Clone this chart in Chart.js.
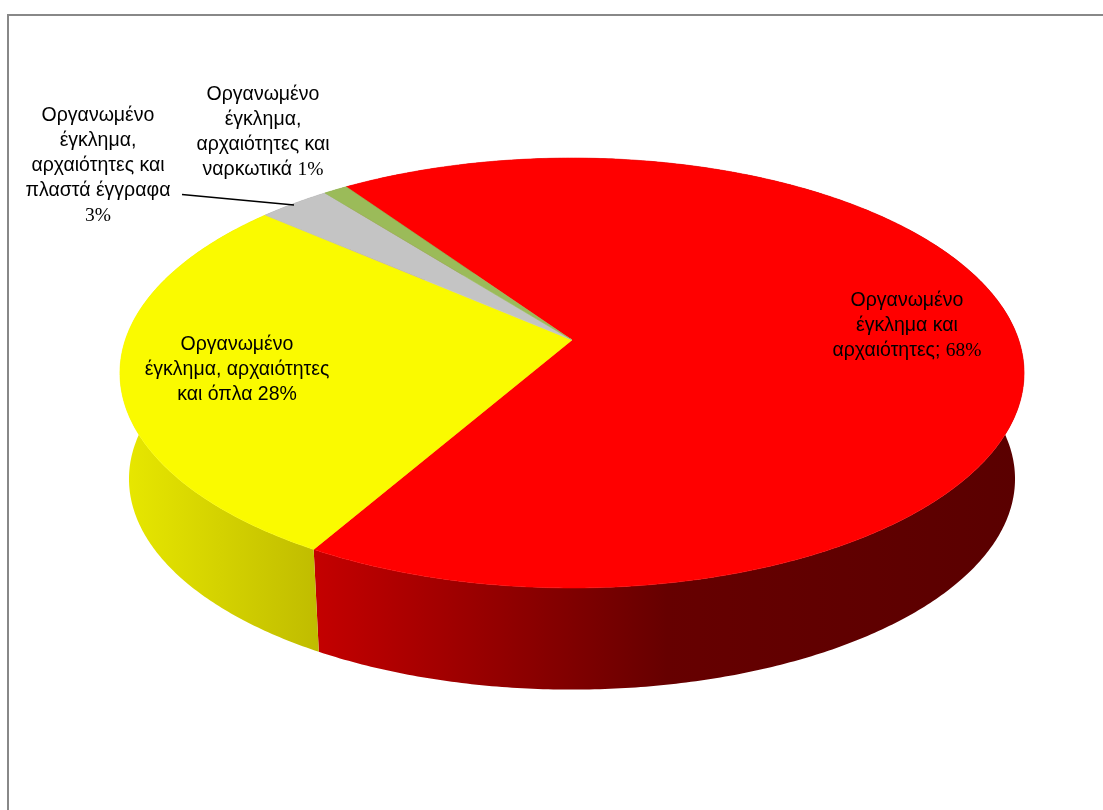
<!DOCTYPE html>
<html>
<head>
<meta charset="utf-8">
<title>Οργανωμένο έγκλημα</title>
<script src="https://cdn.jsdelivr.net/npm/chart.js@4"></script>
<style>
html,body{margin:0;padding:0;background:#fff;overflow:hidden}
canvas{display:block}
</style>
</head>
<body>
<canvas id="c" width="1103" height="810"></canvas>
<script>
const categories = [
    "Οργανωμένο έγκλημα και αρχαιότητες",
    "Οργανωμένο έγκλημα, αρχαιότητες και όπλα",
    "Οργανωμένο έγκλημα, αρχαιότητες και πλαστά έγγραφα",
    "Οργανωμένο έγκλημα, αρχαιότητες και ναρκωτικά"
]
const values = [68, 28, 3, 1]
const top_colors = ["#ff0000", "#fafa00", "#c4c4c4", "#9bbb59"]
const wall_colors = [
    ["#c40000", "#660000", "#5a0000"],
    ["#e8e800", "#c0bc00"],
    ["#8a8a8a", "#8a8a8a"],
    ["#6d8a3c", "#6d8a3c"]
]
// the text of each label, wrapped, the percent goes after the last line
const label_lines = [
    ["Οργανωμένο", "έγκλημα και", "αρχαιότητες; "],
    ["Οργανωμένο", "έγκλημα, αρχαιότητες", "και όπλα "],
    ["Οργανωμένο", "έγκλημα,", "αρχαιότητες και", "πλαστά έγγραφα", ""],
    ["Οργανωμένο", "έγκλημα,", "αρχαιότητες και", "ναρκωτικά "]
]
const label_x = [907, 237, 98, 263]
const label_y = [306, 350, 121, 100]
const pct_font = ["serif", "sans", "serif", "serif"]

const sans_font = "19.5px 'Liberation Sans', Arial, sans-serif"
const serif_font = "19.5px 'Liberation Serif', 'Times New Roman', serif"
const line_height = 25

// perspective of the disc: unit circle -> picture
const center_x = 572
const center_y = 340
const disc_w = 446.7
const disc_h = 209.9
const tilt = -0.1535
const depth_y = 106.6
const depth_scale = 0.98

function project(angle, lower){
    let ux = Math.cos(angle)
    let uy = Math.sin(angle)
    let den = 1 + tilt * uy
    let s = lower ? depth_scale : 1
    let off = lower ? depth_y : 0
    return [center_x + s * disc_w * ux / den, center_y + off + s * disc_h * uy / den]
}

function rim_points(start, end, lower){
    let pts = []
    let n = Math.max(2, Math.ceil((end - start) / 0.01))
    for (let i = 0; i <= n; i++){
        pts.push(project(start + (end - start) * i / n, lower))
    }
    return pts
}

function trace(ctx, pts){
    ctx.beginPath()
    pts.forEach(function(p, i){
        if (i == 0){ctx.moveTo(p[0], p[1])}
        else {ctx.lineTo(p[0], p[1])}
    })
    ctx.closePath()
}

function wall_gradient(ctx, stops, x0, x1){
    let g = ctx.createLinearGradient(x0, 0, x1, 0)
    stops.forEach(function(c, i){g.addColorStop(i / (stops.length - 1), c)})
    return g
}

const disc3d = {
    id: "disc3d",
    beforeDraw(chart){
        let ctx = chart.ctx
        ctx.fillStyle = "#888888"
        ctx.fillRect(7, 14, 1096, 2)
        ctx.fillRect(7, 14, 2, 796)
    },
    beforeDatasetsDraw(chart){
        let ctx = chart.ctx
        let arcs = chart.getDatasetMeta(0).data

        // side wall first, the top covers the back part of it
        arcs.forEach(function(arc, i){
            let up = rim_points(arc.startAngle, arc.endAngle, false)
            let down = rim_points(arc.startAngle, arc.endAngle, true).reverse()
            let x0 = i == 0 ? 315 : 122
            let x1 = i == 0 ? 1020 : 318
            ctx.fillStyle = wall_gradient(ctx, wall_colors[i], x0, x1)
            trace(ctx, up.concat(down))
            ctx.fill()
        })

        arcs.forEach(function(arc, i){
            let pts = [[center_x, center_y]].concat(rim_points(arc.startAngle, arc.endAngle, false))
            trace(ctx, pts)
            ctx.fillStyle = top_colors[i]
            ctx.strokeStyle = top_colors[i]
            ctx.lineWidth = 0.6
            ctx.fill()
            ctx.stroke()
        })
        return false
    },
    afterDraw(chart){
        let ctx = chart.ctx

        // leader line of the 3% label
        ctx.beginPath()
        ctx.moveTo(182, 194.5)
        ctx.lineTo(294, 205)
        ctx.strokeStyle = "#000"
        ctx.lineWidth = 1.6
        ctx.stroke()

        ctx.fillStyle = "#000"
        ctx.textBaseline = "alphabetic"
        ctx.textAlign = "left"
        label_lines.forEach(function(lines, i){
            lines.forEach(function(line, j){
                let is_last = j == lines.length - 1
                let pct = is_last ? values[i] + "%" : ""
                let pf = pct_font[i] == "serif" ? serif_font : sans_font
                ctx.font = sans_font
                let w1 = ctx.measureText(line).width
                ctx.font = pf
                let w2 = ctx.measureText(pct).width
                let x = label_x[i] - (w1 + w2) / 2
                let y = label_y[i] + j * line_height
                ctx.font = sans_font
                ctx.fillText(line, x, y)
                ctx.font = pf
                ctx.fillText(pct, x + w1, y)
            })
        })
    }
}

const chart = new Chart(document.getElementById("c").getContext("2d"), {
    type: "pie",
    data: {
        labels: categories,
        datasets: [{data: values, backgroundColor: top_colors, borderWidth: 0}]
    },
    options: {
        responsive: false,
        animation: false,
        rotation: -34.7,
        plugins: {legend: {display: false}, tooltip: {enabled: false}}
    },
    plugins: [disc3d]
})
</script>
</body>
</html>
